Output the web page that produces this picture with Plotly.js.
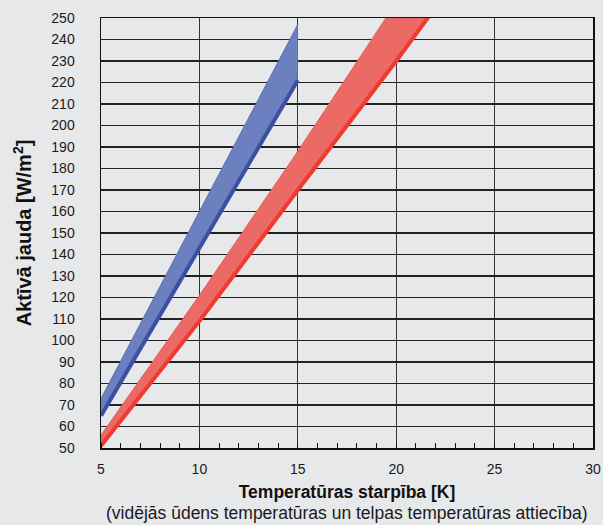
<!DOCTYPE html>
<html>
<head>
<meta charset="utf-8">
<script src="https://cdn.plot.ly/plotly-3.0.1.min.js"></script>
<style>html,body{margin:0;padding:0;background:#e7e8ea;}</style>
</head>
<body>
<div id="chart" style="width:603px;height:525px;"></div>
<script>
// Temperature difference [K]
const blueX = [5, 10, 15];
const blueLower = [65, 143, 221];
const blueUpper = [73, 160, 247];

const redX = [5, 10, 15, 20, 22];
const redLower = [51, 109, 170, 230, 255];
const redUpper = [56, 121, 188, 257, 285];

const yTicks = [50,60,70,80,90,100,110,120,130,140,150,160,170,180,190,200,210,220,230,240,250];
const xTicks = [5, 10, 15, 20, 25, 30];

const traces = [
  {x: blueX, y: blueUpper, mode: 'lines', line: {color: '#5b6fb5', width: 1}, hoverinfo: 'skip', showlegend: false},
  {x: blueX, y: blueLower, mode: 'lines', fill: 'tonexty', fillcolor: '#6c7fbf', line: {color: '#3b4fa3', width: 4}, showlegend: false},
  {x: redX, y: redUpper, mode: 'lines', line: {color: '#e85e5a', width: 1}, hoverinfo: 'skip', showlegend: false},
  {x: redX, y: redLower, mode: 'lines', fill: 'tonexty', fillcolor: '#ec6a66', line: {color: '#ee3a30', width: 4}, showlegend: false}
];

const fam = '"Liberation Sans", Arial, sans-serif';
const font = {family: fam, size: 14, color: '#1a1a1a'};

const layout = {
  width: 603, height: 525,
  paper_bgcolor: '#e7e8ea', plot_bgcolor: '#e7e8ea',
  margin: {l: 101, r: 10, t: 18, b: 77},
  font: font,
  xaxis: {
    range: [5, 30], tickvals: xTicks, ticktext: xTicks.map(String),
    tickfont: {family: fam, size: 14, color: '#1a1a1a'},
    showgrid: true, gridcolor: '#333', gridwidth: 1.3,
    showline: true, linecolor: '#111', linewidth: 1.5, mirror: true,
    zeroline: false, ticks: '', ticklabelstandoff: 8,
    minor: {dtick: 1, ticks: 'inside', ticklen: 5, tickcolor: '#111', tickwidth: 1, showgrid: false},
    title: {text: '<b>Temperatūras starpība [K]</b>', font: {family: fam, size: 17.5, color: '#111'}, standoff: 9}
  },
  yaxis: {
    range: [50, 250], tickvals: yTicks, ticktext: yTicks.map(String),
    tickfont: {family: fam, size: 14, color: '#1a1a1a'},
    showgrid: true, gridcolor: '#222', gridwidth: 1.3,
    showline: true, linecolor: '#111', linewidth: 1.5, mirror: true,
    zeroline: false, ticks: '', ticklabelstandoff: 22,
    title: {text: '<b>Aktīvā jauda [W/m<sup>2</sup>]</b>', font: {family: fam, size: 20, color: '#111'}, standoff: 14}
  },
  annotations: [{
    text: '(vidējās ūdens temperatūras un telpas temperatūras attiecība)',
    xref: 'paper', yref: 'paper', x: 0.5, y: 0, yshift: -65,
    xanchor: 'center', yanchor: 'middle', showarrow: false,
    font: {family: fam, size: 17.5, color: '#1a1a1a'}
  }]
};

Plotly.newPlot('chart', traces, layout, {staticPlot: true, displayModeBar: false});
</script>
</body>
</html>
